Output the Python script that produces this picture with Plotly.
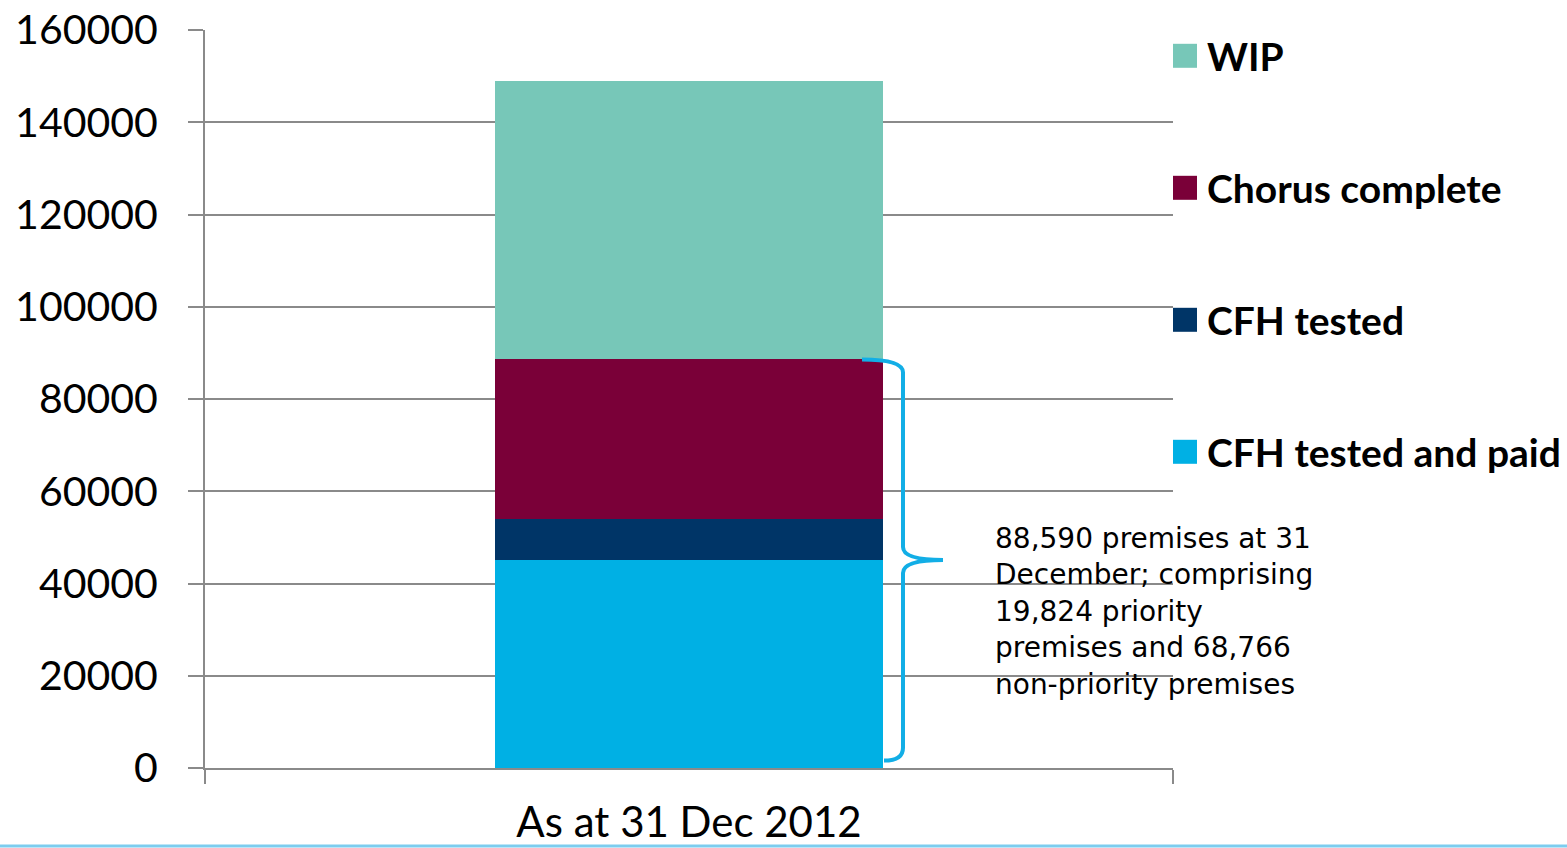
import plotly.graph_objects as go

categories = ["As at 31 Dec 2012"]
series_names = ["CFH tested and paid", "CFH tested", "Chorus complete", "WIP"]
series_values = [[45100], [8900], [34590], [60350]]
series_colors = ["#00B0E4", "#003567", "#7A0038", "#77C7B8"]
y_ticks = [0, 20000, 40000, 60000, 80000, 100000, 120000, 140000, 160000]
note_text = ("88,590 premises at 31<br>December; comprising<br>19,824 priority<br>"
             "premises and 68,766<br>non-priority premises")
brace_total = 88590

W, H = 1567, 848
ML, MR, MT, MB = 205, 394, 30, 80
PW, PH = W - ML - MR, H - MT - MB

def px_x(px):
    return (px - ML) / PW

def px_y(py):
    return (H - MB - py) / PH

grid = "#8A8A8A"
fig = go.Figure()
for name, vals, col in zip(series_names, series_values, series_colors):
    fig.add_trace(go.Bar(x=categories, y=vals, name=name, marker=dict(color=col, line=dict(width=0)),
                         showlegend=False))

# custom legend (top-down order: last series first)
shapes = []
annotations = []
leg_top, leg_step, sq = 55.8, 132.0, 24
for i, (name, col) in enumerate(zip(series_names[::-1], series_colors[::-1])):
    cy = leg_top + i * leg_step
    shapes.append(dict(type="rect", xref="paper", yref="paper",
                       x0=px_x(1173), x1=px_x(1173 + sq),
                       y0=px_y(cy + sq / 2), y1=px_y(cy - sq / 2),
                       fillcolor=col, line=dict(width=0)))
    annotations.append(dict(text=name, xref="paper", yref="paper", x=px_x(1205), y=px_y(cy),
                            xanchor="left", yanchor="middle", showarrow=False,
                            font=dict(family="Lato", size=39, color="black", weight="bold")))

# brace from ~0 up to brace_total
ybot = 1600
ytop = brace_total
ymid = (ytop + ybot) / 2
d = 2800
x0 = px_x(862)
xv = px_x(903)
xt = px_x(943)
xb = px_x(884)
path = (f"M {x0},{ytop} Q {xv},{ytop} {xv},{ytop - d} "
        f"L {xv},{ymid + d} Q {xv},{ymid} {xt},{ymid} "
        f"Q {xv},{ymid} {xv},{ymid - d} "
        f"L {xv},{ybot + d} Q {xv},{ybot} {xb},{ybot}")
shapes.append(dict(type="path", xref="paper", yref="y", path=path,
                   line=dict(color="#12AEE6", width=4)))

# decorative bottom line
shapes.append(dict(type="line", xref="paper", yref="paper", x0=px_x(0), x1=px_x(W),
                   y0=px_y(846), y1=px_y(846), line=dict(color="#7DCDEF", width=3)))

annotations.append(dict(text=note_text, xref="paper", yref="paper", x=px_x(993), y=px_y(520),
                        xanchor="left", yanchor="top", align="left", showarrow=False,
                        font=dict(family="DejaVu Sans", size=28, color="black")))

fig.update_layout(
    width=W, height=H, margin=dict(l=ML, r=MR, t=MT, b=MB, autoexpand=False),
    barmode="stack", bargap=0.6,
    plot_bgcolor="white", paper_bgcolor="white",
    shapes=shapes, annotations=annotations,
    xaxis=dict(type="category", range=[-0.5, 0.5], showline=True, linecolor=grid, linewidth=2,
               ticks="outside", tickson="boundaries", ticklen=14, tickcolor=grid, tickwidth=2,
               showgrid=False, tickfont=dict(family="Lato", size=42, color="black"),
               ticklabelstandoff=17, automargin=False),
    yaxis=dict(range=[0, 160000], tickvals=y_ticks, tickformat="d", showline=True,
               linecolor=grid, linewidth=2, ticks="outside", ticklen=15, tickcolor=grid,
               tickwidth=2, showgrid=True, gridcolor=grid, gridwidth=2, zeroline=False,
               tickfont=dict(family="Lato", size=41, color="black"), ticklabelstandoff=22,
               automargin=False),
)

fig.write_html("out.html")
